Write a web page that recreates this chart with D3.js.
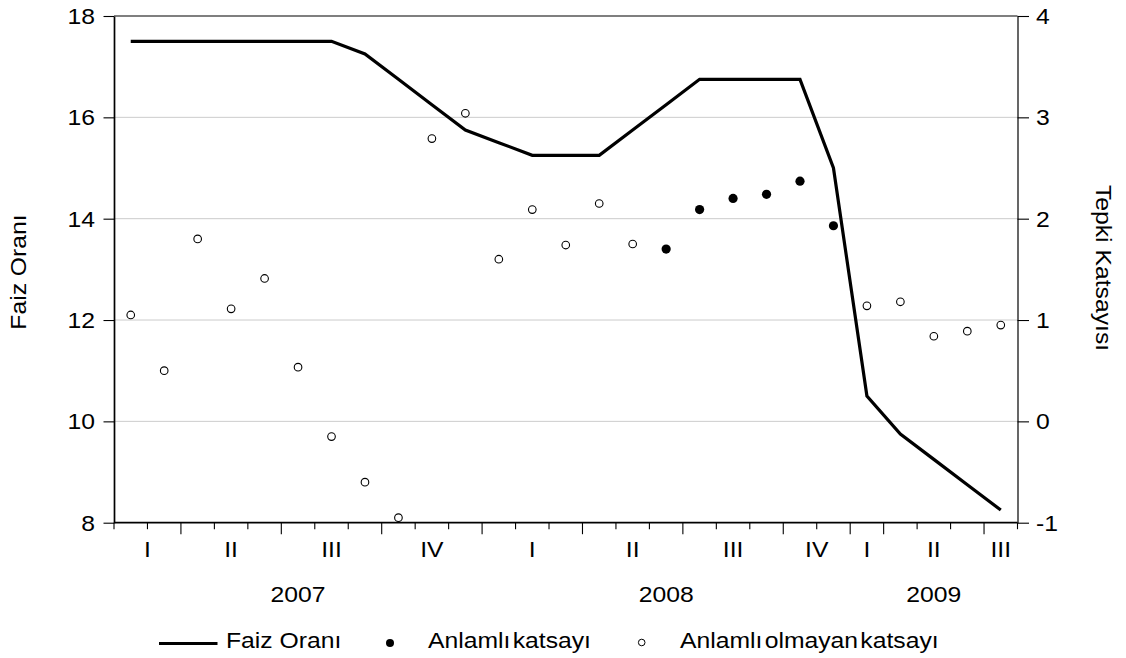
<!DOCTYPE html>
<html>
<head>
<meta charset="utf-8">
<script src="https://cdn.jsdelivr.net/npm/d3@7"></script>
<style>
  html, body { margin: 0; padding: 0; background: #fff; }
  svg { display: block; }
  text { font-family: "Liberation Sans", Arial, sans-serif; fill: #000; }
</style>
</head>
<body>
<svg id="chart" width="1126" height="658"></svg>
<script>
// ---- data ----
const months = [
  "2007-02","2007-03","2007-04","2007-05","2007-06","2007-07","2007-08","2007-09","2007-10","2007-11","2007-12",
  "2008-01","2008-02","2008-03","2008-04","2008-05","2008-06","2008-07","2008-08","2008-09","2008-10","2008-12",
  "2009-03","2009-04","2009-05","2009-06","2009-07"
];
const faizOrani = [
  17.5,17.5,17.5,17.5,17.5,17.5,17.5,17.25,16.75,16.25,15.75,
  15.5,15.25,15.25,15.25,15.75,16.25,16.75,16.75,16.75,16.75,15.0,
  10.5,9.75,9.25,8.75,8.25
];
const tepkiKatsayisi = [
  1.05,0.50,1.80,1.11,1.41,0.535,-0.15,-0.60,-0.95,2.79,3.04,
  1.60,2.09,1.74,2.15,1.75,1.70,2.09,2.20,2.24,2.37,1.93,
  1.14,1.18,0.84,0.89,0.95
];
const anlamli = [
  0,0,0,0,0,0,0,0,0,0,0,
  0,0,0,0,0,1,1,1,1,1,1,
  0,0,0,0,0
];
const leftTicks = [8,10,12,14,16,18];
const rightTicks = [-1,0,1,2,3,4];
const quarterNames = ["I","II","III","IV"];
const seriesNames = ["Faiz Oranı","Anlamlı katsayı","Anlamlı olmayan katsayı"];
const leftTitle = "Faiz Oranı";
const rightTitle = "Tepki Katsayısı";

// ---- layout ----
const FS = 21.5, SX = 1.15;
const L = 114, R = 1017.5, T = 16, B = 522.7;
const svg = d3.select("#chart");

const x = d3.scaleBand().domain(months).range([L, R]).padding(0);
const bw = x.bandwidth();
const cx = m => x(m) + bw / 2;
const yL = d3.scaleLinear().domain([8, 18]).range([B, T]);
const yR = d3.scaleLinear().domain([-1, 4]).range([B, T]);

function txt(g, px, py, s, anchor, rot) {
  return g.append("text")
    .attr("transform", `translate(${px},${py})` + (rot ? ` rotate(${rot})` : "") + ` scale(${SX},1)`)
    .attr("text-anchor", anchor || "middle")
    .attr("font-size", FS)
    .text(s);
}

// gridlines
svg.append("g").selectAll("line")
  .data(leftTicks.filter(v => v > 8 && v < 18))
  .join("line")
  .attr("x1", L).attr("x2", R)
  .attr("y1", d => yL(d)).attr("y2", d => yL(d))
  .attr("stroke", "#cccccc").attr("stroke-width", 1);

// line
const line = d3.line()
  .x((d, i) => cx(months[i]))
  .y(d => yL(d));
svg.append("path")
  .datum(faizOrani)
  .attr("d", line)
  .attr("fill", "none")
  .attr("stroke", "#000")
  .attr("stroke-width", 3.2)
  .attr("stroke-linejoin", "miter");

// points
const pts = months.map((m, i) => ({ m, v: tepkiKatsayisi[i], s: anlamli[i] }));
svg.append("g").selectAll("circle")
  .data(pts)
  .join("circle")
  .attr("cx", d => cx(d.m))
  .attr("cy", d => yR(d.v))
  .attr("r", d => d.s ? 4.6 : 3.8)
  .attr("fill", d => d.s ? "#000" : "#fff")
  .attr("stroke", "#000")
  .attr("stroke-width", d => d.s ? 0 : 1.1);

// frame top
svg.append("line").attr("x1", L).attr("x2", R).attr("y1", T).attr("y2", T)
  .attr("stroke", "#000").attr("stroke-width", 1.2);

const fmt = d => String(d);

// left axis
const gL = svg.append("g").attr("transform", `translate(${L},0)`)
  .call(d3.axisLeft(yL).tickValues(leftTicks).tickSize(10.5).tickSizeOuter(0).tickFormat(fmt));
gL.select(".domain").attr("stroke-width", 1.7);
gL.selectAll(".tick line").attr("stroke-width", 1.1);
gL.selectAll(".tick text")
  .attr("x", null).attr("dy", "0.34em")
  .attr("font-size", FS).attr("font-family", null)
  .attr("text-anchor", "end")
  .attr("transform", `translate(-19,0) scale(${SX},1)`);

// right axis
const gR = svg.append("g").attr("transform", `translate(${R},0)`)
  .call(d3.axisRight(yR).tickValues(rightTicks).tickSize(11.5).tickSizeOuter(0).tickFormat(fmt));
gR.select(".domain").attr("stroke-width", 1.2);
gR.selectAll(".tick line").attr("stroke-width", 1.1);
gR.selectAll(".tick text")
  .attr("x", null).attr("dy", "0.34em")
  .attr("font-size", FS).attr("font-family", null)
  .attr("text-anchor", "start")
  .attr("transform", `translate(18.5,0) scale(${SX},1)`);

// bottom axis: month boundary ticks, longer at quarter boundaries
const qKey = m => { const [yy, mm] = m.split("-").map(Number); return yy + "-" + Math.floor((mm - 1) / 3); };
const bounds = d3.range(months.length + 1).map(i => {
  const xp = i < months.length ? x(months[i]) : R;
  const isQ = i > 0 && i < months.length && qKey(months[i]) !== qKey(months[i - 1]);
  return { xp, len: isQ ? 11.5 : 6.5 };
});
const gB = svg.append("g");
gB.selectAll("line.tk").data(bounds).join("line")
  .attr("class", "tk")
  .attr("x1", d => d.xp).attr("x2", d => d.xp)
  .attr("y1", B).attr("y2", d => B + d.len)
  .attr("stroke", "#000").attr("stroke-width", 1.1);
gB.append("line").attr("x1", L).attr("x2", R).attr("y1", B).attr("y2", B)
  .attr("stroke", "#000").attr("stroke-width", 1.7);

// quarter labels
const quarters = d3.groups(months, qKey);
quarters.forEach(([k, ms]) => {
  const x0 = x(ms[0]), x1 = x(ms[ms.length - 1]) + bw;
  const q = +k.split("-")[1];
  txt(gB, (x0 + x1) / 2, 557.3, quarterNames[q]);
});
// year labels
const years = d3.groups(months, m => m.slice(0, 4));
years.forEach(([yy, ms]) => {
  const x0 = x(ms[0]), x1 = x(ms[ms.length - 1]) + bw;
  txt(gB, (x0 + x1) / 2, 601.7, yy);
});

// axis titles
txt(svg, 25.5, 272, leftTitle, "middle", -90);
txt(svg, 1095.5, 268, rightTitle, "middle", 90);

// legend
const lg = svg.append("g");
const ly = 648;
lg.append("line").attr("x1", 159).attr("x2", 217.5).attr("y1", ly - 4.5).attr("y2", ly - 4.5)
  .attr("stroke", "#000").attr("stroke-width", 3.2);
txt(lg, 226, ly, seriesNames[0], "start");
lg.append("circle").attr("cx", 390).attr("cy", ly - 5).attr("r", 4).attr("fill", "#000");
txt(lg, 428, ly, seriesNames[1], "start").attr("word-spacing", -4);
lg.append("circle").attr("cx", 641.7).attr("cy", ly - 5.5).attr("r", 3.3).attr("fill", "#fff")
  .attr("stroke", "#000").attr("stroke-width", 1);
txt(lg, 680, ly, seriesNames[2], "start").attr("word-spacing", -4);
</script>
</body>
</html>
